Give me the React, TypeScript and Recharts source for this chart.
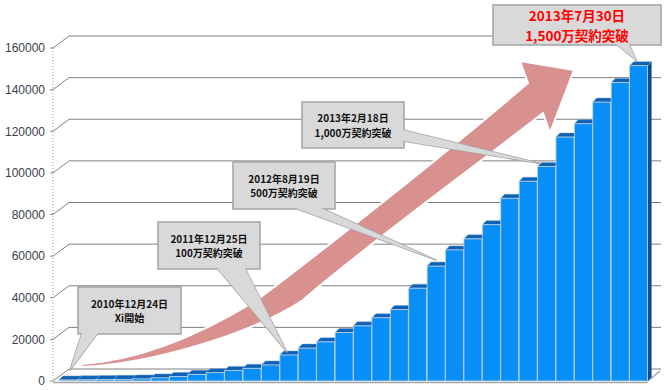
import { BarChart, Bar, XAxis, YAxis, CartesianGrid, LabelList } from "recharts"

const MONTHS = [
  "2010/12",
  "2011/01", "2011/02", "2011/03", "2011/04", "2011/05", "2011/06",
  "2011/07", "2011/08", "2011/09", "2011/10", "2011/11", "2011/12",
  "2012/01", "2012/02", "2012/03", "2012/04", "2012/05", "2012/06",
  "2012/07", "2012/08", "2012/09", "2012/10", "2012/11", "2012/12",
  "2013/01", "2013/02", "2013/03", "2013/04", "2013/05", "2013/06", "2013/07",
]

const SUBSCRIBERS = [
  500, 600, 700, 800, 1000, 1500, 2200, 3200, 4000, 5100, 6100, 7700, 12500,
  15800, 18800, 23300, 26500, 30400, 34300, 44600, 55200, 63000, 68300, 75100, 87800,
  96000, 103100, 117200, 123600, 134000, 143400, 151500,
]

const Y_TICKS = [0, 20000, 40000, 60000, 80000, 100000, 120000, 140000, 160000]

// milestones: which bar each callout points at
const CALLOUT_BARS = [0, 12, 20, 26, 31]
const CALLOUT_TEXT = [
  ["2010年12月24日", "Xi開始"],
  ["2011年12月25日", "100万契約突破"],
  ["2012年8月19日", "500万契約突破"],
  ["2013年2月18日", "1,000万契約突破"],
  ["2013年7月30日", "1,500万契約突破"],
]

// callout boxes (layout only)
const CALLOUT_LAYOUT = [
  { box: [78, 287, 103, 47], base: [[82, 333], [98, 333]], tip: [11, -10], big: false },
  { box: [158, 222, 102, 47], base: [[217, 268], [245, 268]], tip: [7, -3], big: false },
  { box: [233, 162, 102, 47], base: [[295, 208], [321, 208]], tip: [9, -6], big: false },
  { box: [302, 102, 102, 46], base: [[403, 130], [403, 141]], tip: [3, -3], big: false },
  { box: [493, 5, 168, 40], base: [[616, 44], [629, 44]], tip: [7, -5], big: true },
]

const data = MONTHS.map((m, i) => ({ month: m, subs: SUBSCRIBERS[i] }))

const DX = 16
const DY = -12
const GRID = "#808080"
const JP = "'Noto Sans CJK JP', 'Noto Sans', sans-serif"

const ARROW_PATH =
  "M 82 364 C 140 360, 200 335, 257 300 C 330 245, 450 150, 528 83 " +
  "L 520 61 L 574 70 L 550 133 L 543 113 " +
  "C 470 170, 360 250, 303 300 C 250 335, 150 364, 82 367 Z"

function TrendArrow() {
  return <path d={ARROW_PATH} fill="#d9918f" stroke="#fff" strokeWidth={2} strokeLinejoin="round" />
}

function GridLine(props: any) {
  const { x1, y1, x2 } = props
  const bottom = props.y != null && props.height != null ? props.y + props.height : 381
  const isFloor = Math.abs(y1 - bottom) < 1.5
  return (
    <g key={props.key}>
      <line x1={x1} y1={y1} x2={x1 + DX} y2={y1 + DY} stroke={GRID} strokeWidth={1} />
      <line x1={x1 + DX} y1={y1 + DY} x2={x2 + 13} y2={y1 + DY} stroke={GRID} strokeWidth={1} />
      {isFloor && (
        <path
          d={`M ${x1} ${y1 + 1.5} L ${x2 - 2} ${y1 + 1.5} L ${x2 + 12} ${y1 - 10}`}
          fill="none"
          stroke="#a6a6a6"
          strokeWidth={1.5}
        />
      )}
    </g>
  )
}

function Bar3D(props: any) {
  const { x, y, width: w, height: h, index } = props
  const d = 4
  return (
    <g>
      {index === 0 && <TrendArrow />}
      <polygon
        points={`${x + w},${y} ${x + w + d},${y - d} ${x + w + d},${y + h - d} ${x + w},${y + h}`}
        fill="#0b4e8e"
      />
      <polygon
        points={`${x},${y} ${x + d},${y - d} ${x + w + d},${y - d} ${x + w},${y}`}
        fill="#0d62b8"
        stroke="#6f9dcc"
        strokeWidth={0.5}
      />
      <rect x={x} y={y} width={w} height={Math.max(h, 0)} fill="#088ef7" stroke="#c9d3de" strokeWidth={0.8} />
    </g>
  )
}

function Callout(props: any) {
  const k = CALLOUT_BARS.indexOf(props.index)
  if (k < 0) return null
  const vb = props.viewBox && props.viewBox.x != null ? props.viewBox : props
  const lay = CALLOUT_LAYOUT[k]
  const [bx, by, bw, bh] = lay.box
  const tx = vb.x + lay.tip[0]
  const ty = vb.y + lay.tip[1]
  const tri = `${lay.base[0][0]},${lay.base[0][1]} ${tx},${ty} ${lay.base[1][0]},${lay.base[1][1]}`
  const lines = CALLOUT_TEXT[k]
  const cx = bx + bw / 2
  const cy = by + bh / 2
  const fs = lay.big ? 13.5 : 10
  const gap = fs * 1.46
  return (
    <g>
      <polygon points={tri} fill="#d9d9d9" stroke="#a3a3a3" strokeWidth={1.5} strokeLinejoin="round" />
      <rect x={bx} y={by} width={bw} height={bh} fill="#d9d9d9" stroke="#a3a3a3" strokeWidth={1.5} />
      <polygon points={tri} fill="#d9d9d9" />
      {lines.map((t, i) => (
        <text
          key={i}
          x={cx}
          y={cy + (i - 0.5) * gap}
          textAnchor="middle"
          dominantBaseline="central"
          fontFamily={JP}
          fontWeight="bold"
          fontSize={fs}
          fill={lay.big ? "#ff0000" : "#111"}
        >
          {t}
        </text>
      ))}
    </g>
  )
}

export default function App() {
  return (
    <div style={{ position: "absolute", left: 0, top: 0, width: 672, height: 390, background: "#fff" }}>
      <BarChart
        width={672}
        height={390}
        data={data}
        margin={{ top: 48, right: 24, bottom: 9, left: 0 }}
        barCategoryGap={0}
      >
        <CartesianGrid vertical={false} horizontal={GridLine} />
        <XAxis dataKey="month" hide padding={{ left: 6, right: 0 }} />
        <YAxis
          width={53}
          domain={[0, 160000]}
          ticks={Y_TICKS}
          interval={0}
          tickSize={3}
          tickMargin={5}
          axisLine={{ stroke: "#9a9a9a", strokeDasharray: "1 2" }}
          tickLine={{ stroke: "#888" }}
          tick={{ fontSize: 12, fill: "#3a3f4a", fontFamily: "'Liberation Sans', Arial, sans-serif" }}
        />
        <Bar dataKey="subs" shape={Bar3D} isAnimationActive={false}>
          <LabelList dataKey="subs" content={Callout} />
        </Bar>
      </BarChart>
    </div>
  )
}
